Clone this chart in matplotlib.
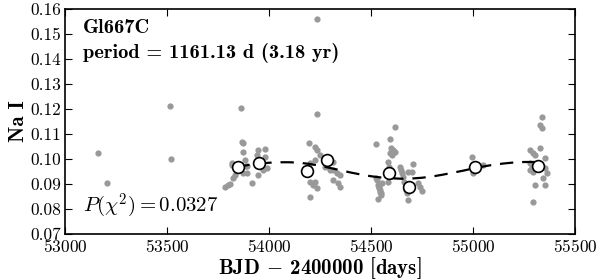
import numpy as np
import matplotlib
matplotlib.use("Agg")
import matplotlib.pyplot as plt

# raw Na I measurements (BJD - 2400000, index)
t_obs = [53160, 53204, 53513, 53521,
         53784, 53800, 53809, 53817, 53817, 53825, 53833, 53855, 53861, 53866, 53871,
         53874, 53874, 53882, 53887, 53890, 53890, 53915, 53940, 53948, 53948,
         53980, 53980, 53989, 53960, 53970,
         54198, 54201, 54201, 54217, 54225, 54225, 54225, 54234, 54234, 54234,
         54250, 54201, 54275, 54299, 54315, 54315, 54315, 54331, 54340, 54348, 54348,
         54523, 54525, 54530, 54533, 54535, 54538, 54540, 54542, 54545, 54548, 54550,
         54552, 54585, 54585, 54593, 54593, 54598, 54601, 54609, 54618, 54618, 54590,
         54642, 54648, 54652, 54658, 54664, 54670, 54672, 54677, 54681, 54683, 54699,
         54707, 54732, 54740, 54748,
         54994, 54998, 55050,
         55279, 55279, 55279, 55288, 55296, 55296, 55296, 55304, 55304, 55328, 55328,
         55337, 55337, 55345, 55353, 55353, 55353, 55361]
na_obs = [0.1024, 0.0904, 0.1213, 0.1000,
          0.0889, 0.0896, 0.0900, 0.0983, 0.0976, 0.0923, 0.0936, 0.0963, 0.1203, 0.1069, 0.1063,
          0.1029, 0.0943, 0.0996, 0.0972, 0.0943, 0.0972, 0.0903, 0.1016, 0.1036, 0.0936,
          0.1039, 0.1009, 0.0963, 0.0989, 0.0956,
          0.1063, 0.0909, 0.0849, 0.0896, 0.1049, 0.0996, 0.0909, 0.1036, 0.0883, 0.1180,
          0.1016, 0.0985, 0.0969, 0.0956, 0.0989, 0.0956, 0.0916, 0.0943, 0.0903, 0.0936, 0.0889,
          0.1060, 0.0923, 0.0916, 0.0839, 0.0896, 0.0889, 0.0883, 0.0876, 0.0869, 0.0863, 0.0856,
          0.0903, 0.0989, 0.0909, 0.1079, 0.1023, 0.1043, 0.1016, 0.1036, 0.1127, 0.1029, 0.0969,
          0.0969, 0.0956, 0.0943, 0.0929, 0.0909, 0.0889, 0.0876, 0.0863, 0.0836, 0.0949, 0.0949,
          0.0980, 0.0903, 0.0889, 0.0873,
          0.1007, 0.0945, 0.0976,
          0.1036, 0.0983, 0.0956, 0.0969, 0.1023, 0.0949, 0.0829, 0.1016, 0.0896, 0.1043, 0.1136,
          0.1169, 0.1123, 0.0923, 0.1003, 0.0963, 0.0896, 0.0943]
t_high = [54234]
na_high = [0.1560]

# binned means
t_bin = [53850, 53953, 54188, 54282, 54588, 54688, 55010, 55320]
na_bin = [0.0969, 0.0983, 0.0952, 0.0996, 0.0945, 0.0890, 0.0970, 0.0972]

# fitted curve
t_fit = [53840, 53900, 53950, 54000, 54050, 54100, 54150, 54200, 54250, 54300,
         54350, 54400, 54450, 54500, 54550, 54600, 54650, 54700, 54750, 54800,
         54850, 54900, 54950, 55000, 55050, 55100, 55150, 55200, 55250, 55300, 55340]
na_fit = [0.0968, 0.0976, 0.0981, 0.0985, 0.0987, 0.0987, 0.0985, 0.0980, 0.0973, 0.0964,
          0.0955, 0.0946, 0.0938, 0.0931, 0.0926, 0.0923, 0.0921, 0.0922, 0.0925, 0.0930,
          0.0937, 0.0945, 0.0953, 0.0962, 0.0970, 0.0977, 0.0982, 0.0986, 0.0988, 0.0988, 0.0987]

plt.rcParams['font.family'] = 'serif'
plt.rcParams['font.serif'] = ['cmr10']
plt.rcParams['mathtext.fontset'] = 'cm'
plt.rcParams['axes.formatter.use_mathtext'] = True
plt.rcParams['axes.unicode_minus'] = False

fig = plt.figure(figsize=(6, 2.8), dpi=100)
ax = fig.add_axes([65/600, 46/280, 510/600, 225/280])

ax.plot(t_obs + t_high, na_obs + na_high, 'o', color='#999999', ms=4.5, mec='none', zorder=2)
ax.plot(t_fit, na_fit, '--', color='black', lw=1.6, dashes=(6, 4), zorder=3)
ax.plot(t_bin, na_bin, 'o', mfc='white', mec='black', mew=1.2, ms=8.5, zorder=4)

ax.set_xlim(53000, 55500)
ax.set_ylim(0.07, 0.16)
ax.set_xticks([53000, 53500, 54000, 54500, 55000, 55500])
ax.set_yticks(np.arange(0.07, 0.1601, 0.01))
ax.set_yticklabels(['0.07', '0.08', '0.09', '0.10', '0.11', '0.12', '0.13', '0.14', '0.15', '0.16'])
ax.tick_params(direction='in', top=True, right=True, length=5, width=0.8, labelsize=12.5, pad=3)
for s in ax.spines.values():
    s.set_linewidth(1.2)

bold = 'cmb10'
ax.set_xlabel(r'BJD $-$ 2400000 [days]', fontsize=15, family=bold)
ax.xaxis.set_label_coords(0.5, -0.095)
ax.set_ylabel('Na I', fontsize=15, family=bold)
ax.yaxis.set_label_coords(-0.072, 0.5)

ax.text(0.035, 0.955, 'Gl667C', transform=ax.transAxes, fontsize=14.7, family=bold, va='top')
ax.text(0.035, 0.85, 'period = 1161.13 d (3.18 yr)', transform=ax.transAxes,
        fontsize=14.7, family=bold, va='top')
ax.text(0.035, 0.06, r'$P(\chi^2) = 0.0327$', transform=ax.transAxes, fontsize=15, va='bottom')

fig.savefig('out.png', dpi=100)
